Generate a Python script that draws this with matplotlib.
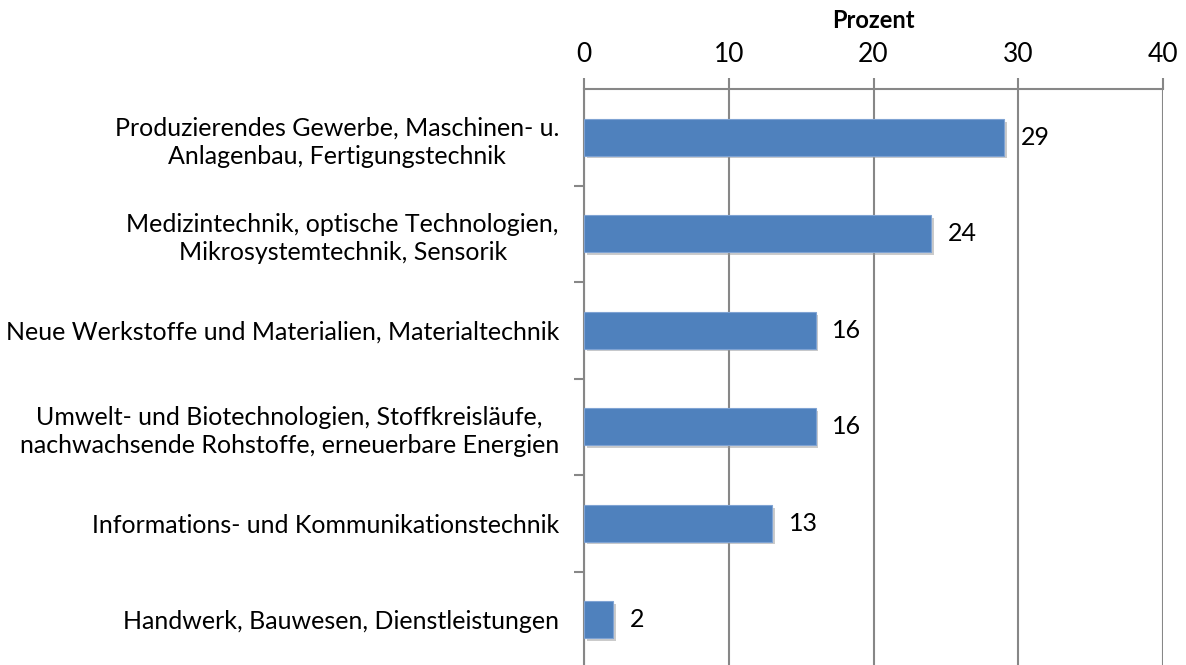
import matplotlib.pyplot as plt
import matplotlib.patheffects as pe
import numpy as np

# data
categories = [
    "Produzierendes Gewerbe, Maschinen- u.\nAnlagenbau, Fertigungstechnik",
    "Medizintechnik, optische Technologien,\nMikrosystemtechnik, Sensorik",
    "Neue Werkstoffe und Materialien, Materialtechnik",
    "Umwelt- und Biotechnologien, Stoffkreisläufe,\nnachwachsende Rohstoffe, erneuerbare Energien",
    "Informations- und Kommunikationstechnik",
    "Handwerk, Bauwesen, Dienstleistungen",
]
values = [29, 24, 16, 16, 13, 2]
x_ticks = [0, 10, 20, 30, 40]

BLUE = "#4F81BD"
GRID = "#878787"

plt.rcParams["font.family"] = ["Lato", "DejaVu Sans"]

fig = plt.figure(figsize=(11.86, 6.65), dpi=100)
ax = fig.add_axes([584 / 1186, -3 / 665, (1163 - 584) / 1186, (668 - 89) / 665])

y = np.arange(len(categories))
bars = ax.barh(y, values, height=0.38, color=BLUE, edgecolor="#7FA3D3",
               linewidth=0.8, zorder=3)
for b in bars:
    b.set_path_effects([pe.SimplePatchShadow(offset=(2, -2), shadow_rgbFace="#999999", alpha=0.5),
                        pe.Normal()])

for yi, v in zip(y, values):
    ax.text(v + 1.15, yi, str(v), va="center", ha="left", fontsize=18, color="black")

ax.set_xlim(0, 40)
ax.set_ylim(len(categories) - 0.5, -0.5)
ax.set_xticks(x_ticks)
ax.xaxis.tick_top()
ax.xaxis.set_label_position("top")
ax.set_xlabel("Prozent", fontsize=17, fontweight="bold", labelpad=10)
ax.tick_params(axis="x", labelsize=19, length=8, width=1.5, color=GRID, pad=8)

ax.set_yticks(y)
ax.set_yticklabels(categories, fontsize=18, multialignment="center", linespacing=1.3)
ax.tick_params(axis="y", which="major", length=0, pad=18)
ax.set_yticks(np.arange(0.5, len(categories) - 1, 1), minor=True)
ax.tick_params(axis="y", which="minor", length=7, width=1.5, color=GRID)

ax.grid(axis="x", color=GRID, linewidth=1.5, zorder=0)
ax.set_axisbelow(True)
for s in ["right", "bottom"]:
    ax.spines[s].set_visible(False)
for s in ["top", "left"]:
    ax.spines[s].set_color(GRID)
    ax.spines[s].set_linewidth(1.5)

fig.savefig("out.png", dpi=100)
